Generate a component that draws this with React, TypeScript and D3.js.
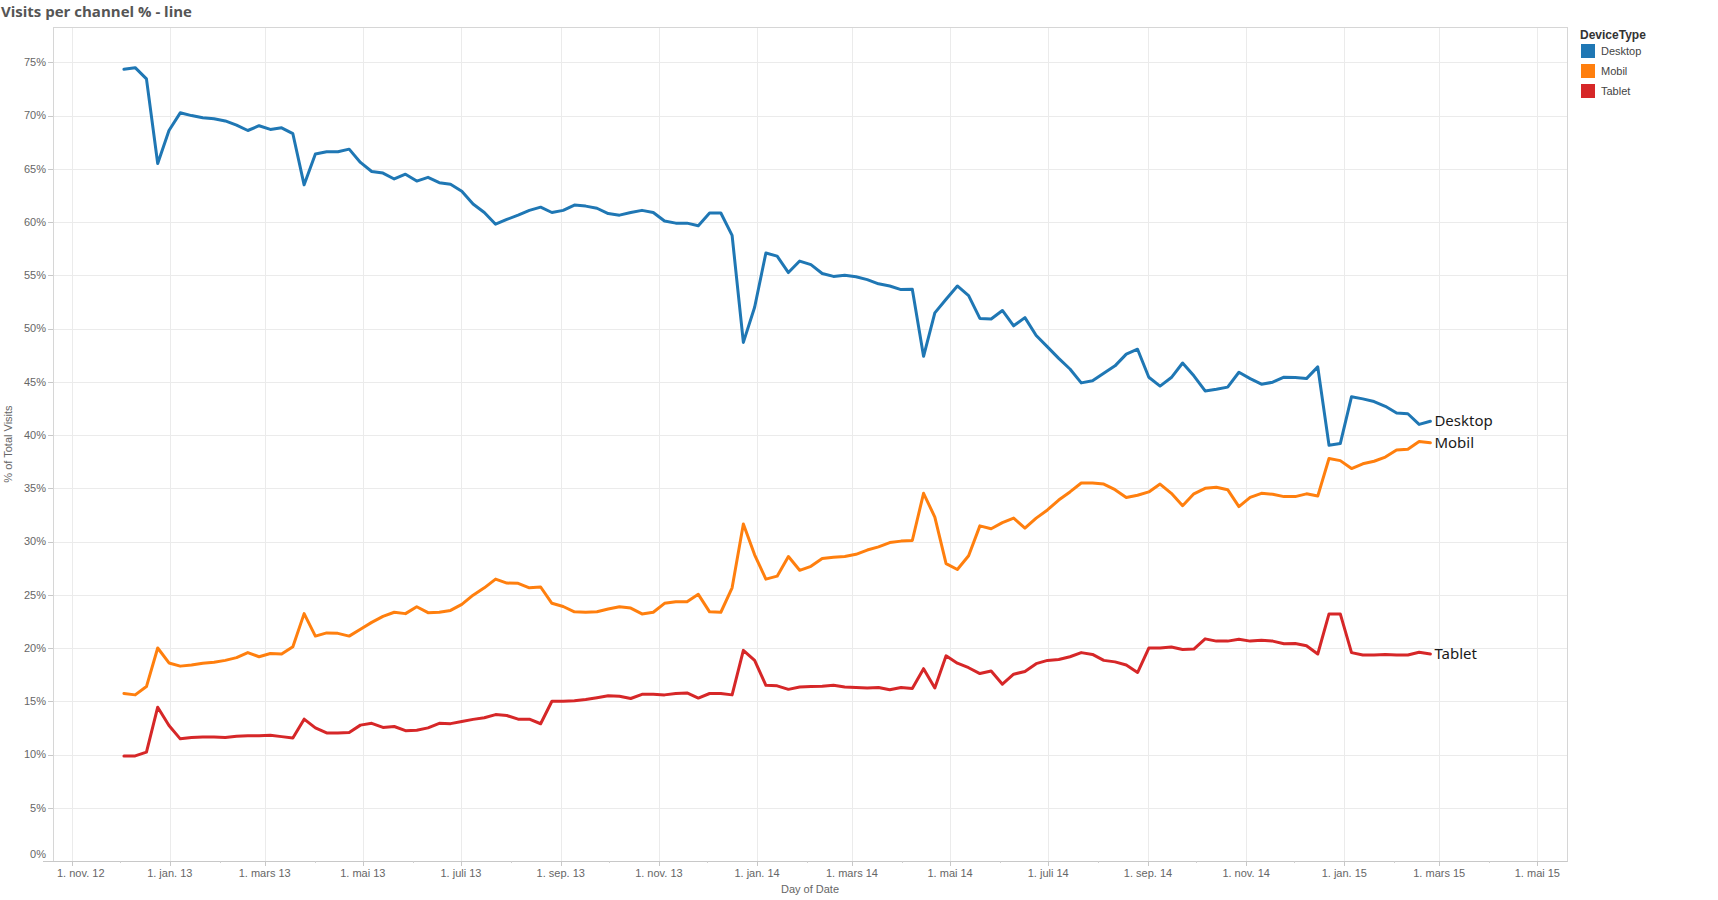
import React, { useRef, useEffect } from 'react';
import * as d3 from 'd3';

// weekly share of visits per device type, first week of des. 2012
const firstWeek = Date.UTC(2012, 11, 3, 12);

const desktop = [
  74.35, 74.5, 73.45, 65.5, 68.6, 70.26, 70.0, 69.8, 69.7, 69.5,
  69.1, 68.6, 69.05, 68.7, 68.85, 68.3, 63.5, 66.4, 66.6, 66.6,
  66.85, 65.6, 64.75, 64.6, 64.05, 64.5, 63.85, 64.2, 63.7, 63.55,
  62.9, 61.7, 60.9, 59.8, 60.25, 60.65, 61.1, 61.4, 60.9, 61.1,
  61.6, 61.5, 61.3, 60.8, 60.65, 60.9, 61.1, 60.9, 60.1, 59.9,
  59.9, 59.65, 60.85, 60.85, 58.75, 48.7, 52.0, 57.1, 56.8, 55.26,
  56.34, 56.0, 55.17, 54.9, 55.0, 54.87, 54.6, 54.2, 54.0, 53.66,
  53.7, 47.4, 51.47, 52.76, 54.0, 53.1, 50.95, 50.9, 51.7, 50.26,
  51.03, 49.35, 48.28, 47.2, 46.2, 44.9, 45.1, 45.8, 46.5, 47.6,
  48.06, 45.43, 44.6, 45.4, 46.77, 45.56, 44.14, 44.3, 44.5, 45.9,
  45.3, 44.78, 44.96, 45.43, 45.4, 45.3, 46.4, 39.05, 39.2, 43.6,
  43.4, 43.15, 42.7, 42.07, 42.0, 41.0, 41.3,
];

const mobil = [
  15.73, 15.6, 16.38, 20.0, 18.6, 18.3, 18.4, 18.58, 18.66, 18.84,
  19.1, 19.57, 19.18, 19.48, 19.44, 20.13, 23.23, 21.12, 21.42, 21.38,
  21.12, 21.77, 22.41, 22.97, 23.36, 23.23, 23.88, 23.32, 23.36, 23.53,
  24.1, 24.96, 25.65, 26.47, 26.1, 26.08, 25.65, 25.73, 24.2, 23.9,
  23.4, 23.36, 23.4, 23.66, 23.88, 23.75, 23.2, 23.36, 24.2, 24.35,
  24.35, 25.04, 23.4, 23.36, 25.65, 31.64, 28.75, 26.47, 26.75, 28.6,
  27.3, 27.67, 28.4, 28.53, 28.6, 28.8, 29.2, 29.5, 29.9, 30.04,
  30.1, 34.53, 32.3, 27.93, 27.37, 28.66, 31.47, 31.2, 31.77, 32.2,
  31.25, 32.2, 32.97, 33.9, 34.66, 35.5, 35.5, 35.4, 34.87, 34.14,
  34.35, 34.66, 35.4, 34.53, 33.36, 34.48, 35.0, 35.1, 34.87, 33.28,
  34.14, 34.53, 34.44, 34.22, 34.22, 34.48, 34.27, 37.8, 37.6, 36.85,
  37.3, 37.54, 37.93, 38.6, 38.66, 39.4, 39.27,
];

const tablet = [
  9.87, 9.87, 10.22, 14.44, 12.72, 11.47, 11.6, 11.64, 11.64, 11.6,
  11.72, 11.77, 11.77, 11.81, 11.68, 11.55, 13.32, 12.5, 12.03, 12.03,
  12.07, 12.76, 12.93, 12.54, 12.63, 12.24, 12.28, 12.5, 12.93, 12.9,
  13.1, 13.3, 13.45, 13.75, 13.66, 13.32, 13.32, 12.89, 15.0, 15.0,
  15.04, 15.17, 15.34, 15.52, 15.47, 15.26, 15.65, 15.65, 15.6, 15.73,
  15.78, 15.3, 15.73, 15.73, 15.6, 19.78, 18.84, 16.5, 16.45, 16.12,
  16.34, 16.38, 16.42, 16.5, 16.34, 16.3, 16.25, 16.3, 16.08, 16.3,
  16.2, 18.06, 16.25, 19.27, 18.58, 18.15, 17.6, 17.85, 16.6, 17.54,
  17.8, 18.53, 18.84, 18.92, 19.18, 19.57, 19.4, 18.84, 18.7, 18.4,
  17.7, 20.0, 20.0, 20.1, 19.87, 19.9, 20.86, 20.65, 20.65, 20.82,
  20.65, 20.73, 20.65, 20.4, 20.43, 20.22, 19.44, 23.2, 23.2, 19.57,
  19.35, 19.35, 19.4, 19.35, 19.35, 19.6, 19.44,
];

const seriesNames = ['Desktop', 'Mobil', 'Tablet'];
const seriesColors = ['#1f77b4', '#ff7f0e', '#d62728'];
const seriesValues = [desktop, mobil, tablet];

const yTicks = [0, 5, 10, 15, 20, 25, 30, 35, 40, 45, 50, 55, 60, 65, 70, 75];
const monthNames = ['jan.', 'feb.', 'mars', 'april', 'mai', 'juni', 'juli', 'aug.', 'sep.', 'okt.', 'nov.', 'des.'];

const W = 1718;
const H = 900;
const left = 53, right = 1567, top = 27, bottom = 861;

const App: React.FC = () => {
  const svgRef = useRef<SVGSVGElement>(null);

  useEffect(() => {
    if (!svgRef.current) return;
    const svg = d3.select(svgRef.current);
    svg.selectAll('*').remove();

    const x = d3.scaleUtc()
      .domain([new Date(Date.UTC(2012, 9, 20, 10)), new Date(Date.UTC(2015, 4, 19, 10))])
      .range([left, right]);
    const y = d3.scaleLinear().domain([0, 78.32]).range([bottom, top]);

    svg.append('rect').attr('width', W).attr('height', H).attr('fill', '#fff');

    // title
    svg.append('text')
      .attr('x', 1).attr('y', 17)
      .style('font-family', '"Open Sans", "Noto Sans", sans-serif')
      .style('font-weight', 700)
      .style('font-size', '15px')
      .style('fill', '#555')
      .text('Visits per channel % - line');

    // months: every other one gets a label and a grid line
    const allMonths = d3.utcMonth.range(x.domain()[0], x.domain()[1]);
    const majors = allMonths.filter(d => (d.getUTCMonth() + 2) % 2 === 0);
    const minors = allMonths.filter(d => (d.getUTCMonth() + 2) % 2 === 1);

    const g = svg.append('g');
    g.selectAll('.hgrid')
      .data(yTicks.filter(t => t > 0))
      .enter().append('line')
      .attr('x1', left).attr('x2', right)
      .attr('y1', d => Math.round(y(d)) + 0.5).attr('y2', d => Math.round(y(d)) + 0.5)
      .attr('stroke', '#ebebeb');
    g.selectAll('.vgrid')
      .data(majors)
      .enter().append('line')
      .attr('x1', d => Math.round(x(d)) + 0.5).attr('x2', d => Math.round(x(d)) + 0.5)
      .attr('y1', top).attr('y2', bottom)
      .attr('stroke', '#ebebeb');

    // border
    g.append('rect')
      .attr('x', left + 0.5).attr('y', top + 0.5)
      .attr('width', right - left).attr('height', bottom - top)
      .attr('fill', 'none').attr('stroke', '#d6d6d6');
    g.append('line')
      .attr('x1', left - 10).attr('x2', right + 0.5)
      .attr('y1', bottom + 0.5).attr('y2', bottom + 0.5)
      .attr('stroke', '#c8c8c8');

    // y axis
    const yAxis = svg.append('g');
    yAxis.selectAll('line')
      .data(yTicks)
      .enter().append('line')
      .attr('x1', left - 5).attr('x2', left)
      .attr('y1', d => Math.round(y(d)) + 0.5).attr('y2', d => Math.round(y(d)) + 0.5)
      .attr('stroke', '#c8c8c8');
    yAxis.selectAll('text')
      .data(yTicks)
      .enter().append('text')
      .attr('x', left - 7)
      .attr('y', d => y(d) + (d === 0 ? -7 : 0))
      .attr('dy', '0.35em')
      .attr('text-anchor', 'end')
      .style('font-family', '"Liberation Sans", Arial, sans-serif')
      .style('font-size', '11px')
      .style('fill', '#666')
      .text(d => `${d}%`);
    svg.append('text')
      .attr('transform', `translate(12,${(top + bottom) / 2}) rotate(-90)`)
      .attr('text-anchor', 'middle')
      .style('font-family', '"Liberation Sans", Arial, sans-serif')
      .style('font-size', '11px')
      .style('fill', '#666')
      .text('% of Total Visits');

    // x axis
    const xAxis = svg.append('g');
    xAxis.selectAll('.major')
      .data(majors)
      .enter().append('line')
      .attr('x1', d => Math.round(x(d)) + 0.5).attr('x2', d => Math.round(x(d)) + 0.5)
      .attr('y1', bottom).attr('y2', bottom + 5)
      .attr('stroke', '#c8c8c8');
    xAxis.selectAll('.minor')
      .data(minors)
      .enter().append('line')
      .attr('x1', d => Math.round(x(d)) + 0.5).attr('x2', d => Math.round(x(d)) + 0.5)
      .attr('y1', bottom).attr('y2', bottom + 2)
      .attr('stroke', '#d0d0d0');
    xAxis.selectAll('text')
      .data(majors)
      .enter().append('text')
      .attr('x', (d, i) => (i === 0 ? left + 4 : x(d)))
      .attr('y', bottom + 16)
      .attr('text-anchor', (d, i) => (i === 0 ? 'start' : 'middle'))
      .style('font-family', '"Liberation Sans", Arial, sans-serif')
      .style('font-size', '11px')
      .style('fill', '#666')
      .text(d => `1. ${monthNames[d.getUTCMonth()]} ${String(d.getUTCFullYear()).slice(2)}`);
    svg.append('text')
      .attr('x', (left + right) / 2).attr('y', bottom + 32)
      .attr('text-anchor', 'middle')
      .style('font-family', '"Liberation Sans", Arial, sans-serif')
      .style('font-size', '11px')
      .style('fill', '#666')
      .text('Day of Date');

    // lines
    const dateOf = (i: number) => d3.utcDay.offset(new Date(firstWeek), 7 * i);
    const line = d3.line<number>()
      .x((d, i) => x(dateOf(i)))
      .y(d => y(d));

    seriesValues.forEach((vals, s) => {
      svg.append('path')
        .attr('d', line(vals))
        .attr('fill', 'none')
        .attr('stroke', seriesColors[s])
        .attr('stroke-width', 3)
        .attr('stroke-linejoin', 'round')
        .attr('stroke-linecap', 'round');
      const last = vals.length - 1;
      svg.append('text')
        .attr('x', x(dateOf(last)) + 4)
        .attr('y', y(vals[last]))
        .attr('dy', '0.35em')
        .style('font-family', '"Noto Sans", "Open Sans", sans-serif')
        .style('font-size', '15px')
        .style('fill', '#1a1a1a')
        .text(seriesNames[s]);
    });

    // legend
    const lg = svg.append('g').attr('transform', 'translate(1580,0)');
    lg.append('text')
      .attr('x', 0).attr('y', 39)
      .style('font-family', '"Liberation Sans", Arial, sans-serif')
      .style('font-weight', 700)
      .style('font-size', '12px')
      .style('fill', '#333')
      .text('DeviceType');
    const items = lg.selectAll('.item')
      .data(seriesNames)
      .enter().append('g')
      .attr('transform', (d, i) => `translate(0,${44 + i * 20})`);
    items.append('rect')
      .attr('x', 1).attr('y', 0).attr('width', 14).attr('height', 14)
      .attr('fill', (d, i) => seriesColors[i]);
    items.append('text')
      .attr('x', 21).attr('y', 7)
      .attr('dy', '0.35em')
      .style('font-family', '"Liberation Sans", Arial, sans-serif')
      .style('font-size', '11px')
      .style('fill', '#444')
      .text(d => d);
  }, []);

  return (
    <svg
      ref={svgRef}
      width={W}
      height={H}
      viewBox={`0 0 ${W} ${H}`}
      style={{ position: 'absolute', left: 0, top: 0, display: 'block' }}
    />
  );
};

export default App;
